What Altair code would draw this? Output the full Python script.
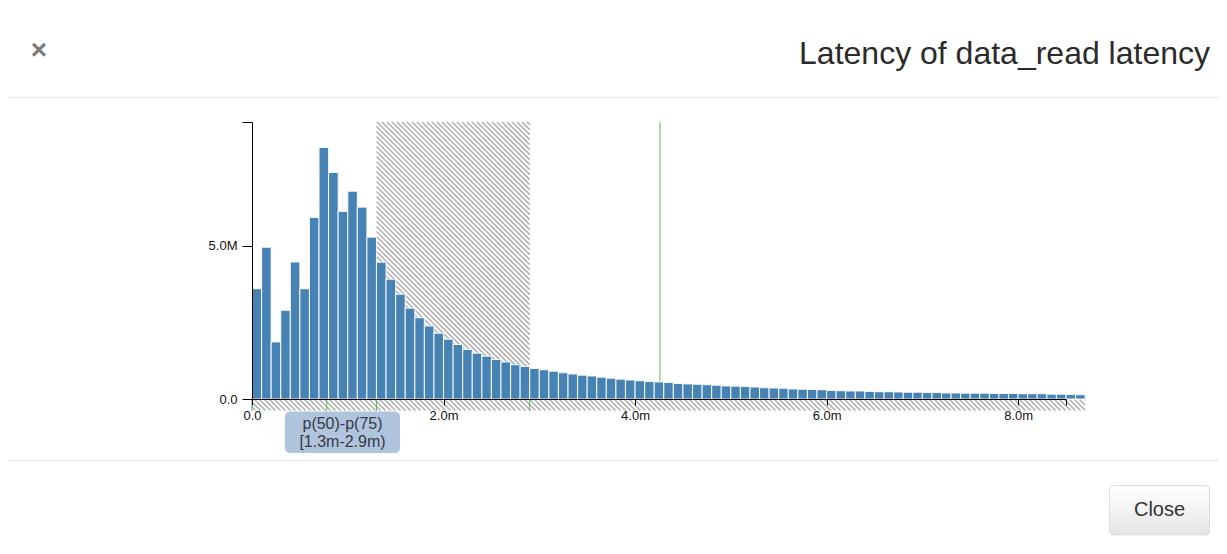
import altair as alt
import numpy as np
import pandas as pd

# ---------------- data ----------------
bin_width_s = 0.0001
counts_m = [3.60, 4.96, 1.86, 2.90, 4.48, 3.60, 5.93, 8.22, 7.40, 6.13,
            6.79, 6.27, 5.29, 4.47, 3.91, 3.42, 2.97, 2.66, 2.39, 2.15,
            1.95, 1.78, 1.62, 1.50, 1.40, 1.29, 1.21, 1.12, 1.06, 1.00,
            0.96, 0.91, 0.86, 0.82, 0.78, 0.75, 0.71, 0.68, 0.65, 0.62,
            0.60, 0.57, 0.56, 0.54, 0.51, 0.49, 0.48, 0.465, 0.45, 0.43,
            0.42, 0.41, 0.39, 0.37, 0.36, 0.35, 0.33, 0.32, 0.31, 0.30,
            0.28, 0.27, 0.26, 0.26, 0.25, 0.24, 0.24, 0.23, 0.22, 0.22,
            0.21, 0.21, 0.20, 0.20, 0.19, 0.19, 0.19, 0.18, 0.18, 0.18,
            0.17, 0.17, 0.17, 0.16, 0.16, 0.15, 0.14]
x_ticks = [0, 0.002, 0.004, 0.006, 0.008, 0.0085]
y_ticks = [0, 5e6, 9.05e6]
marker_ticks = [0.0, 0.00078, 0.0013, 0.0029]   # short marks under the axis
marker_line = [0.00426]                          # full-height marker
band_lo, band_hi = 0.0013, 0.0029                # p(50)-p(75)
title_text = "Latency of data_read latency"
band_label = ["p(50)-p(75)", "[1.3m-2.9m)"]

# ---------------- geometry ----------------
W, H = 814, 277
XMAX, YMAX = 0.0085, 9.05e6
OX, OY = 252, 122     # page position of plot origin

xs = alt.Scale(domain=[0, XMAX], nice=False, zero=False)
ys = alt.Scale(domain=[0, YMAX], nice=False)

ax_x = alt.Axis(values=x_ticks, format=".2s",
                labelExpr="datum.value > 0.0084 ? '' : datum.label",
                tickSize=6, labelPadding=4, grid=False, labelFlush=False,
                domainColor="#000", tickColor="#000", labelColor="#111",
                labelFont="Liberation Sans", labelFontSize=13, zindex=2)
ax_y = alt.Axis(values=y_ticks, format=".2s",
                labelExpr="datum.value > 8e6 ? '' : datum.label",
                tickSize=10, labelPadding=5, grid=False, labelFlush=False,
                domainColor="#000", tickColor="#000", labelColor="#111",
                labelFont="Liberation Sans", labelFontSize=13, zindex=2)

def px(x):
    return x / XMAX * W

def dx(p):
    return p / W * XMAX

def dy(p):
    return (H - p) / H * YMAX

bars = pd.DataFrame({
    "start": [round(i * bin_width_s, 6) for i in range(len(counts_m))],
    "end": [round((i + 1) * bin_width_s, 6) for i in range(len(counts_m))],
    "count": [c * 1e6 for c in counts_m],
})

def hatch(xa, xb, ya, yb, period=5.0):
    rows = []
    cmin = (ya + OY) - (xb + OX) - period
    cmax = (yb + OY) - (xa + OX) + period
    k0 = int(np.floor(cmin / period))
    k1 = int(np.ceil(cmax / period))
    for k in range(k0, k1 + 1):
        c = k * period - OY + OX
        lo = max(xa, ya - c)
        hi = min(xb, yb - c)
        if hi - lo > 0.2:
            rows.append({"x1": dx(lo), "x2": dx(hi), "y1": dy(lo + c), "y2": dy(hi + c)})
    return pd.DataFrame(rows)

hatch_df = pd.concat([
    hatch(px(band_lo), px(band_hi), 0, H),
    hatch(0, px(len(counts_m) * bin_width_s), H + 0.5, H + 11.5),
], ignore_index=True)

one = pd.DataFrame({"a": [0]})

# ---------------- layers ----------------
hatch_layer = alt.Chart(hatch_df).mark_rule(color="#b4b4b4", strokeWidth=1.7).encode(
    x=alt.X("x1:Q", scale=xs, axis=ax_x, title=None), x2="x2:Q",
    y=alt.Y("y1:Q", scale=ys, axis=ax_y, title=None), y2="y2:Q",
)

line_layer = alt.Chart(pd.DataFrame({"x": marker_line})).mark_rule(
    color="#5cb85c", strokeWidth=1).encode(
    x=alt.X("x:Q", scale=xs, axis=ax_x, title=None),
    y=alt.value(0), y2=alt.value(H),
)

bar_layer = alt.Chart(bars).mark_rect(
    color="#4682b4", stroke="#ffffff", strokeWidth=1.1, strokeOpacity=0.85).encode(
    x=alt.X("start:Q", scale=xs, title=None, axis=ax_x),
    x2="end:Q",
    y=alt.Y("count:Q", scale=ys, title=None, axis=ax_y),
    y2=alt.datum(0),
)

tick_layer = alt.Chart(pd.DataFrame({"x": marker_ticks})).mark_rule(
    color="#5cb85c", strokeWidth=1).encode(
    x=alt.X("x:Q", scale=xs, axis=ax_x, title=None),
    y=alt.value(H + 1), y2=alt.value(H + 12),
)

# ---------------- modal chrome ----------------
def at(pxp, pyp):
    return alt.value(pxp - OX), alt.value(pyp - OY)

def hline(pyp, color):
    return alt.Chart(one).mark_rule(color=color, strokeWidth=1).encode(
        x=alt.value(8 - OX), x2=alt.value(1219 - OX), y=alt.value(pyp - OY))

header_line = hline(97.5, "#e5e5e5")
footer_line = hline(460.5, "#e5e5e5")

cx, cy = at(39, 51)
close_x = alt.Chart(one).mark_text(text="×", font="Liberation Sans", fontSize=28,
                                   fontWeight="bold", color="#7c7c7c",
                                   baseline="middle", align="center").encode(x=cx, y=cy)

tx, ty = at(1210, 64)
title_layer = alt.Chart(one).mark_text(text=title_text, font="Liberation Sans", fontSize=32,
                                       color="#2b2b2b", align="right",
                                       baseline="alphabetic").encode(x=tx, y=ty)

btn_shadow = alt.Chart(one).mark_rect(cornerRadius=4, color="#d4d4d4", opacity=0.7).encode(
    x=alt.value(1109.5 - OX), x2=alt.value(1210 - OX),
    y=alt.value(486 - OY), y2=alt.value(535.5 - OY))
btn = alt.Chart(one).mark_rect(
    cornerRadius=4, stroke="#dcdcdc", strokeWidth=1,
    fill=alt.Gradient(gradient="linear",
                      stops=[alt.GradientStop(color="#ffffff", offset=0),
                             alt.GradientStop(color="#e6e6e6", offset=1)],
                      x1=0, x2=0, y1=0, y2=1)).encode(
    x=alt.value(1109.5 - OX), x2=alt.value(1209.5 - OX),
    y=alt.value(485.5 - OY), y2=alt.value(534 - OY))
bx, by = at(1159.5, 510)
btn_text = alt.Chart(one).mark_text(text="Close", font="Liberation Sans", fontSize=20,
                                    color="#333333", baseline="middle",
                                    align="center").encode(x=bx, y=by)

label_box = alt.Chart(one).mark_rect(cornerRadius=5, color="#b0c4de").encode(
    x=alt.value(285 - OX), x2=alt.value(400 - OX),
    y=alt.value(411.5 - OY), y2=alt.value(453 - OY))
l1x, l1y = at(342.5, 424)
l2x, l2y = at(342.5, 442)
label_t1 = alt.Chart(one).mark_text(text=band_label[0], font="Liberation Sans", fontSize=16,
                                    color="#333a44", baseline="middle",
                                    align="center").encode(x=l1x, y=l1y)
label_t2 = alt.Chart(one).mark_text(text=band_label[1], font="Liberation Sans", fontSize=16,
                                    color="#333a44", baseline="middle",
                                    align="center").encode(x=l2x, y=l2y)

chart = alt.layer(
    header_line, footer_line, close_x, title_layer,
    hatch_layer, line_layer, bar_layer, tick_layer,
    label_box, label_t1, label_t2,
    btn_shadow, btn, btn_text,
).properties(
    width=W, height=H,
    autosize=alt.AutoSizeParams(type="none"),
    padding={"left": OX - 8, "top": OY - 8, "right": 1219 - OX - W, "bottom": 544 - OY - H},
    background="white",
).configure_view(stroke=None)

chart.save("out.html", embed_options={"renderer": "svg", "actions": False})
